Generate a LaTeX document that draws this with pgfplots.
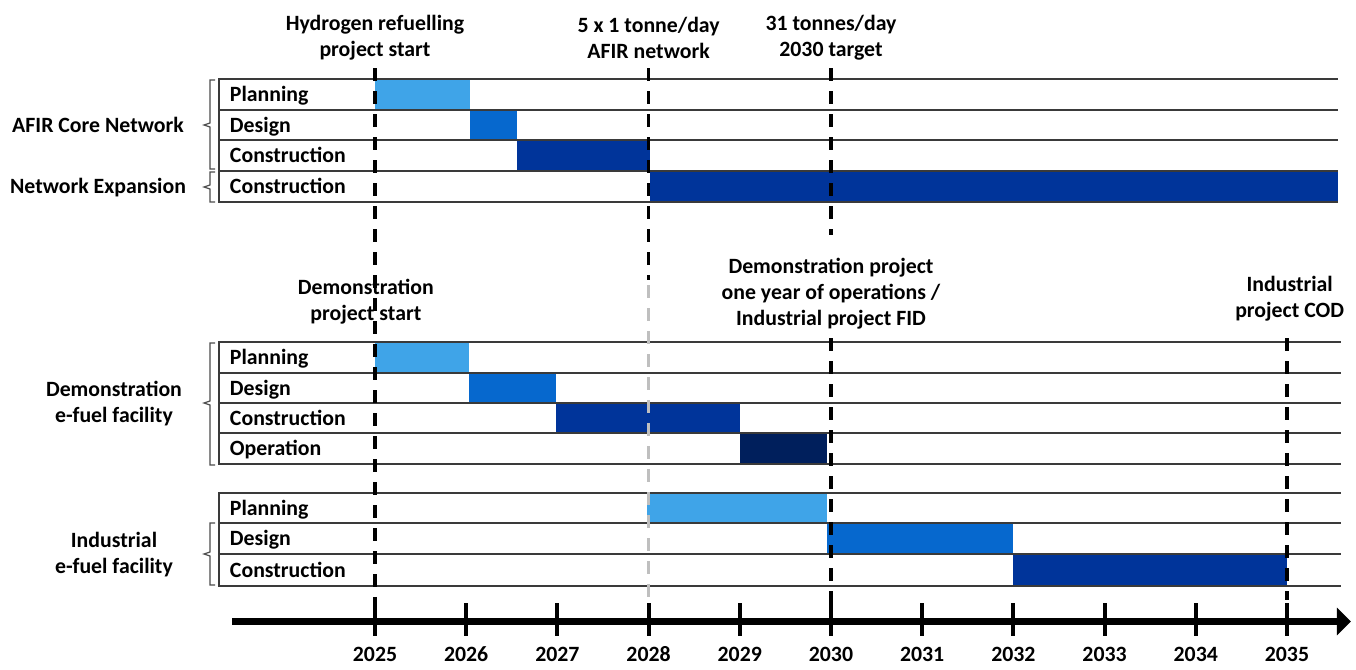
\documentclass[border=0pt]{standalone}
\usepackage{fontspec}
\setmainfont{Carlito}
\usepackage{pgfplots}
\pgfplotsset{compat=1.18}
\usetikzlibrary{arrows.meta}
\definecolor{cplan}{HTML}{3FA4E8}
\definecolor{cdes}{HTML}{0668CE}
\definecolor{ccon}{HTML}{00349A}
\definecolor{cop}{HTML}{001F5C}
\definecolor{rowline}{HTML}{3A3A3A}
\tikzset{rl/.style={anchor=base west, inner sep=0pt, outer sep=0pt}}
\begin{document}
\fontsize{10.9}{13}\selectfont\bfseries
\begin{tikzpicture}
\begin{axis}[
  scale only axis, width=559.5pt, height=310.75pt,
  xmin=2023.432, xmax=2035.702, ymin=44.5, ymax=666,
  axis x line*=bottom, axis y line=none,
  x axis line style={line width=3.5pt, -{Triangle[length=7pt,width=13.5pt]}},
  xtick={2025,2026,...,2035},
  major tick length=0pt,
  /pgf/number format/assume math mode=true,
  /pgf/number format/1000 sep={},
  xticklabel style={font=\fontsize{10.9}{13}\selectfont\bfseries, anchor=center, yshift=-16.5pt},
  clip=false,
  every node/.style={font=\fontsize{10.9}{13}\selectfont\bfseries, inner sep=0pt},
]
% invisible page frame
\path (axis cs:2020.888,0) rectangle (axis cs:2035.757,666);

% ---- bars: AFIR core network / network expansion
\addplot[fill=cplan, draw=none] coordinates {(2025,587) (2026.04,587) (2026.04,556) (2025,556)} -- cycle;
\addplot[fill=cdes, draw=none] coordinates {(2026.04,556) (2026.56,556) (2026.56,526) (2026.04,526)} -- cycle;
\addplot[fill=ccon, draw=none] coordinates {(2026.56,526) (2028.02,526) (2028.02,495) (2026.56,495)} -- cycle;
\addplot[fill=ccon, draw=none] coordinates {(2028.02,495) (2035.559,495) (2035.559,464) (2028.02,464)} -- cycle;
% ---- demonstration facility
\addplot[fill=cplan, draw=none] coordinates {(2025,324) (2026.03,324) (2026.03,293) (2025,293)} -- cycle;
\addplot[fill=cdes, draw=none] coordinates {(2026.03,293) (2026.99,293) (2026.99,263) (2026.03,263)} -- cycle;
\addplot[fill=ccon, draw=none] coordinates {(2026.99,263) (2029.0,263) (2029.0,233) (2026.99,233)} -- cycle;
\addplot[fill=cop, draw=none] coordinates {(2029.0,233) (2029.96,233) (2029.96,202) (2029.0,202)} -- cycle;
% ---- industrial facility
\addplot[fill=cplan, draw=none] coordinates {(2027.98,173) (2029.96,173) (2029.96,143) (2027.98,143)} -- cycle;
\addplot[fill=cdes, draw=none] coordinates {(2029.96,143) (2032.0,143) (2032.0,112) (2029.96,112)} -- cycle;
\addplot[fill=ccon, draw=none] coordinates {(2032.0,112) (2035.0,112) (2035.0,80) (2032.0,80)} -- cycle;

% ---- row lines
\addplot[rowline, line width=0.7pt] coordinates {(2035.559,587) (2023.289,587) (2023.289,464) (2035.559,464)};
\addplot[rowline, line width=0.7pt] coordinates {(2023.289,556) (2035.559,556)};
\addplot[rowline, line width=0.7pt] coordinates {(2023.289,526) (2035.559,526)};
\addplot[rowline, line width=0.7pt] coordinates {(2023.289,495) (2035.559,495)};
\addplot[rowline, line width=0.7pt] coordinates {(2035.59,324) (2023.289,324) (2023.289,202) (2035.59,202)};
\addplot[rowline, line width=0.7pt] coordinates {(2023.289,293) (2035.59,293)};
\addplot[rowline, line width=0.7pt] coordinates {(2023.289,263) (2035.59,263)};
\addplot[rowline, line width=0.7pt] coordinates {(2023.289,233) (2035.59,233)};
\addplot[rowline, line width=0.7pt] coordinates {(2035.59,173) (2023.289,173) (2023.289,80) (2035.59,80)};
\addplot[rowline, line width=0.7pt] coordinates {(2023.289,143) (2035.59,143)};
\addplot[rowline, line width=0.7pt] coordinates {(2023.289,112) (2035.59,112)};

% ---- brackets
\addplot[black!70, line width=0.6pt] coordinates {(2023.246,586) (2023.191,586) (2023.191,543) (2023.125,541) (2023.191,539) (2023.191,497) (2023.246,497)};
\addplot[black!70, line width=0.6pt] coordinates {(2023.246,494) (2023.191,494) (2023.191,481) (2023.125,479) (2023.191,477) (2023.191,464) (2023.246,464)};
\addplot[black!70, line width=0.6pt] coordinates {(2023.246,323) (2023.191,323) (2023.191,265) (2023.125,263) (2023.191,261) (2023.191,201) (2023.246,201)};
\addplot[black!70, line width=0.6pt] coordinates {(2023.246,143) (2023.191,143) (2023.191,114) (2023.125,112) (2023.191,110) (2023.191,81) (2023.246,81)};

% ---- milestone dashed lines
\addplot[black, line width=1.6pt, dash pattern=on 6.5pt off 5pt] coordinates {(2025,598) (2025,61)};
\addplot[black, line width=1.6pt, dash pattern=on 6.5pt off 5pt] coordinates {(2028,598) (2028,386)};
\addplot[black!25, line width=1.6pt, dash pattern=on 6.5pt off 5pt] coordinates {(2028,381) (2028,66)};
\addplot[black, line width=1.6pt, dash pattern=on 6.5pt off 5pt] coordinates {(2030,598) (2030,431)};
\addplot[black, line width=1.6pt, dash pattern=on 6.5pt off 5pt] coordinates {(2030,328) (2030,61)};
\addplot[black, line width=1.6pt, dash pattern=on 6.5pt off 5pt] coordinates {(2035,328) (2035,66)};

% ---- year tick marks crossing the time axis
\addplot[black, line width=2pt] coordinates {(2025,63) (2025,30)};
\addplot[black, line width=2pt] coordinates {(2026,63) (2026,30)};
\addplot[black, line width=2pt] coordinates {(2027,63) (2027,30)};
\addplot[black, line width=2pt] coordinates {(2028,63) (2028,30)};
\addplot[black, line width=2pt] coordinates {(2029,63) (2029,30)};
\addplot[black, line width=2pt] coordinates {(2030,63) (2030,30)};
\addplot[black, line width=2pt] coordinates {(2031,63) (2031,30)};
\addplot[black, line width=2pt] coordinates {(2032,63) (2032,30)};
\addplot[black, line width=2pt] coordinates {(2033,63) (2033,30)};
\addplot[black, line width=2pt] coordinates {(2034,63) (2034,30)};
\addplot[black, line width=2pt] coordinates {(2035,63) (2035,30)};

% ---- row labels
\node[rl] at (axis cs:2023.41,564.5) {Planning};
\node[rl] at (axis cs:2023.41,534) {Design};
\node[rl] at (axis cs:2023.41,503.5) {Construction};
\node[rl] at (axis cs:2023.41,472.5) {Construction};
\node[rl] at (axis cs:2023.41,301.5) {Planning};
\node[rl] at (axis cs:2023.41,271) {Design};
\node[rl] at (axis cs:2023.41,241) {Construction};
\node[rl] at (axis cs:2023.41,210.5) {Operation};
\node[rl] at (axis cs:2023.41,151) {Planning};
\node[rl] at (axis cs:2023.41,120.5) {Design};
\node[rl] at (axis cs:2023.41,89) {Construction};

% ---- group labels
\node at (axis cs:2021.963,541) {AFIR Core Network};
\node at (axis cs:2021.963,478.5) {Network Expansion};
\node[align=center] at (axis cs:2022.138,262.5) {Demonstration\\e-fuel facility};
\node[align=center] at (axis cs:2022.138,111.5) {Industrial\\e-fuel facility};

% ---- milestone annotations
\node[align=center] at (axis cs:2025,628) {Hydrogen refuelling\\project start};
\node[align=center] at (axis cs:2028,628) {5 x 1 tonne/day\\AFIR network};
\node[align=center] at (axis cs:2030,628) {31 tonnes/day\\2030 target};
\node[align=center] at (axis cs:2024.9,364) {Demonstration\\project start};
\node[align=center] at (axis cs:2030,372.5) {Demonstration project\\one year of operations /\\Industrial project FID};
\node[align=center] at (axis cs:2035.03,367.5) {Industrial\\project COD};
\end{axis}
\end{tikzpicture}
\end{document}
